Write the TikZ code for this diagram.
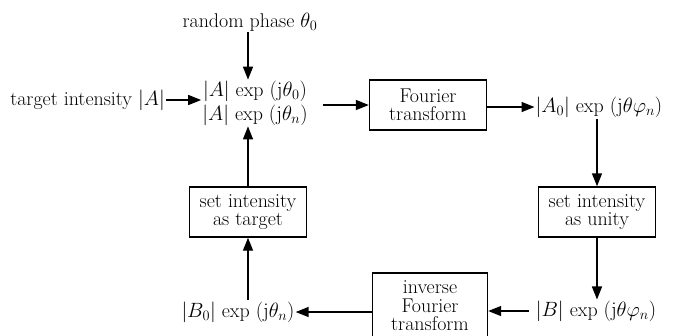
\documentclass[tikz,border=0pt]{standalone}
\usepackage{amsmath,amssymb}
\usepackage{tikz}
\usetikzlibrary{calc,arrows.meta,positioning}
\tikzset{
  blk/.style={draw, line width=1.4bp, minimum width=117bp, minimum height=50bp,
    align=center, inner sep=2bp, font=\lbl},
  txt/.style={align=center, inner sep=1bp, font=\lbl},
  arr/.style={draw, line width=1.4bp,
    -{Triangle[length=13bp,width=10bp]}},
}
\newcommand{\lbl}{\fontsize{20}{18.5}\selectfont}

\begin{document}
\begin{tikzpicture}[x=1bp,y=-1bp]
  \useasboundingbox (0,0) rectangle (673,335);

  % inputs and the current field
  \node[txt] (phase) at (250,22) {random phase $\theta_{0}$};
  \node[txt,align=center] (cen) at (255,103)
    {$|A|$ exp $(\mathrm{j}\theta_{0})$\\[2bp]$|A|$ exp $(\mathrm{j}\theta_{n})$};
  \node[txt,anchor=east] (tgt) at (166,100) {target intensity $|A|$};

  % forward path
  \node[blk] (ft) at (428,105) {Fourier\\transform};
  \node[txt] (afield) at (599,107) {$|A_{0}|$ exp $(\mathrm{j}\theta\varphi_{n})$};
  \node[blk] (unity) at (597,212) {set intensity\\as unity};
  \node[txt] (bfield) at (596,311) {$|B|$ exp $(\mathrm{j}\theta\varphi_{n})$};

  % backward path
  \node[blk,minimum width=115bp,minimum height=66bp] (ift) at (430,306)
    {inverse\\Fourier\\transform};
  \node[txt] (bzero) at (238,312) {$|B_{0}|$ exp $(\mathrm{j}\theta_{n})$};
  \node[blk] (settgt) at (248,212) {set intensity\\as target};

  % connectors
  \draw[arr] (phase.south -| settgt) -- (settgt |- cen.north);
  \draw[arr] (tgt.east) -- (cen.west |- tgt);
  \draw[arr,shorten <=14bp] (cen.east |- ft) -- (ft.west);
  \draw[arr] (ft.east |- afield) -- (afield.west);
  \draw[arr] (afield.south -| unity) -- (unity.north);
  \draw[arr] (unity.south) -- (unity |- bfield.north);
  \draw[arr,shorten <=6bp] (bfield.west) -- (ift.east |- bfield);
  \draw[arr] (ift.west |- bzero) -- (bzero.east);
  \draw[arr] (bzero.north -| settgt) -- (settgt.south);
  \draw[arr] (settgt.north) -- (settgt |- cen.south);
\end{tikzpicture}
\end{document}
